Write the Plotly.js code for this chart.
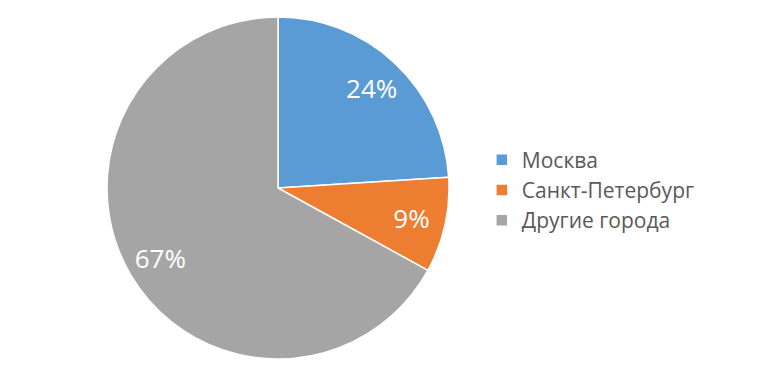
<!DOCTYPE html>
<html>
<head>
<meta charset="utf-8">
<script src="https://cdn.plot.ly/plotly-3.0.1.min.js"></script>
<style>html,body{margin:0;padding:0;background:#fff;}#chart{width:760px;height:380px;}</style>
</head>
<body>
<div id="chart"></div>
<script>
const labels = ["Москва", "Санкт-Петербург", "Другие города"];
const values = [24, 9, 67];
const colors = ["#5B9BD5", "#ED7D31", "#A5A5A5"];

const dom = {x: [0.1408, 0.5908], y: [0.0553, 0.9553]};

const data = [{
  type: "pie",
  labels: labels,
  values: values,
  sort: false,
  direction: "clockwise",
  rotation: 0,
  marker: {colors: colors, line: {color: "#ffffff", width: 1.5}},
  textinfo: "none",
  hoverinfo: "none",
  domain: dom
}, {
  type: "pie",
  labels: labels,
  values: values,
  sort: false,
  direction: "clockwise",
  rotation: 0,
  hole: 0.6,
  showlegend: false,
  marker: {colors: ["rgba(0,0,0,0)", "rgba(0,0,0,0)", "rgba(0,0,0,0)"], line: {width: 0}},
  texttemplate: "%{percent:.0%}",
  textposition: "inside",
  insidetextorientation: "horizontal",
  textfont: {family: "Open Sans, sans-serif", size: 26, color: "#ffffff"},
  hoverinfo: "none",
  domain: dom
}];

const layout = {
  width: 760, height: 380,
  margin: {l: 0, r: 0, t: 0, b: 0},
  paper_bgcolor: "#ffffff",
  showlegend: true,
  legend: {
    x: 0.634, y: 0.5, xanchor: "left", yanchor: "middle",
    font: {family: "Open Sans, sans-serif", size: 21, color: "#595959"},
    itemwidth: 30
  }
};

Plotly.newPlot("chart", data, layout, {staticPlot: true});
</script>
</body>
</html>
